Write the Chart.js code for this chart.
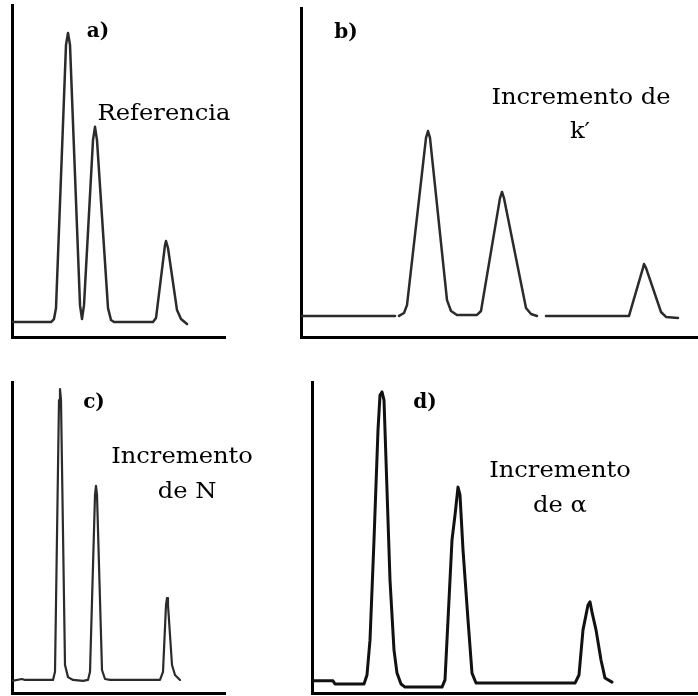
<!DOCTYPE html>
<html>
<head>
<meta charset="utf-8">
<script src="https://cdn.jsdelivr.net/npm/chart.js@4.4.1/dist/chart.umd.min.js"></script>
<style>
html,body{margin:0;padding:0;background:#fff;overflow:hidden}
#wrap{position:relative;width:698px;height:696px;background:#fff}
canvas{position:absolute;left:0;top:0}
</style>
</head>
<body>
<div id="wrap">
<canvas id="ca" width="698" height="696"></canvas>
<canvas id="cb" width="698" height="696"></canvas>
<canvas id="cc" width="698" height="696"></canvas>
<canvas id="cd" width="698" height="696"></canvas>
</div>
<script>
// ---- Data: retention time (min) and detector signal (% of full scale) ----
// a) Referencia
const timeA   = [0, 1.95, 2.1, 2.2, 2.7, 2.8, 2.9, 3.4, 3.5, 3.6, 4.05, 4.15, 4.25, 4.8, 4.95, 5.1, 7.05, 7.2, 7.65, 7.7, 7.8, 8.25, 8.45, 8.75];
const signalA = [4.5, 4.5, 5.4, 8.7, 88.0, 91.6, 88.0, 9.6, 5.4, 9.6, 59.3, 63.3, 59.3, 8.7, 5.1, 4.5, 4.5, 5.7, 27.7, 28.9, 26.8, 8.1, 5.4, 3.9];
// b) Incremento de k'
const timeB   = [0, 4.7, 4.8, 4.9, 5.15, 5.3, 6.25, 6.35, 6.45, 7.3, 7.5, 7.8, 8.8, 9.0, 9.95, 10.05, 10.15, 11.25, 11.5, 11.8, 12.0, 12.25, 16.4, 17.1, 17.15, 17.25, 18.0, 18.25, 18.85];
const signalB = [6.4, 6.4, null, 6.4, 7.3, 9.7, 60.5, 62.6, 60.5, 11.2, 7.9, 6.7, 6.7, 7.9, 42.2, 44.1, 42.2, 8.8, 7.0, 6.4, null, 6.4, 6.4, 21.0, 22.2, 21.0, 7.6, 6.1, 5.8];
// c) Incremento de N
const timeC   = [0, 0.5, 0.65, 2.05, 2.15, 2.35, 2.4, 2.45, 2.65, 2.8, 3.05, 3.55, 3.8, 3.9, 4.15, 4.2, 4.25, 4.5, 4.65, 4.9, 7.4, 7.55, 7.7, 7.75, 7.8, 8.0, 8.15, 8.4];
const signalC = [3.9, 4.5, 4.2, 4.2, 6.8, 94.2, 97.7, 94.2, 9.0, 5.1, 4.2, 3.9, 4.2, 6.8, 63.7, 66.6, 63.7, 7.4, 4.5, 4.2, 4.2, 6.8, 28.3, 30.5, 28.3, 9.0, 5.8, 4.2];
// d) Incremento de alfa
const timeD   = [0, 1.05, 1.15, 2.6, 2.75, 2.9, 3.1, 3.3, 3.4, 3.5, 3.6, 3.7, 3.9, 4.1, 4.25, 4.45, 4.65, 6.5, 6.65, 6.8, 7.0, 7.15, 7.3, 7.4, 7.55, 7.8, 8.0, 8.2, 13.15, 13.35, 13.55, 13.8, 13.9, 14.0, 14.2, 14.45, 14.65, 15.0];
const signalD = [3.9, 3.9, 2.9, 2.9, 5.8, 17.0, 49.2, 84.6, 95.8, 96.8, 94.2, 74.9, 36.3, 13.8, 6.4, 2.9, 1.9, 1.9, 4.2, 23.5, 49.2, 57.2, 66.2, 63.7, 46.0, 23.5, 6.4, 3.2, 3.2, 5.8, 20.3, 28.3, 29.3, 26.0, 20.3, 10.6, 4.8, 3.5];

// Axis ranges (min)
const timeMaxA = 10.65, timeMaxB = 19.85, timeMaxC = 10.65, timeMaxD = 19.3;
const signalMax = 100;

// Texts
const panelTags = ['a)', 'b)', 'c)', 'd)'];
const labelA = ['Referencia'];
const labelB = ['Incremento de', 'k\u2032'];
const labelC = ['Incremento', 'de N'];
const labelD = ['Incremento', 'de \u03B1'];

// ---- Rendering ----
const textPlugin = {
  id: 'panelText',
  afterDraw(chart, args, opts) {
    const ctx = chart.ctx;
    (opts.items || []).forEach(it => {
      ctx.save();
      ctx.fillStyle = '#000';
      ctx.font = it.font;
      ctx.textAlign = 'center';
      ctx.textBaseline = 'alphabetic';
      ctx.translate(it.x, it.y);
      ctx.scale(it.sx || 1, 1);
      ctx.fillText(it.text, 0, 0);
      ctx.restore();
    });
  }
};

const TAG_FONT = 'bold 20px "DejaVu Serif"';
const LBL_FONT = '22px "DejaVu Serif"';
const SX = 1.1;

function makeChart(id, times, signals, xmax, pad, color, width, items) {
  const pts = times.map((t, i) => ({ x: t, y: signals[i] }));
  return new Chart(document.getElementById(id), {
    type: 'line',
    data: { datasets: [{
      data: pts,
      borderColor: color,
      borderWidth: width,
      pointRadius: 0,
      tension: 0,
      spanGaps: false,
      fill: false,
      borderJoinStyle: 'round',
      borderCapStyle: 'round'
    }]},
    options: {
      responsive: false,
      animation: false,
      events: [],
      layout: { padding: pad },
      plugins: {
        legend: { display: false },
        tooltip: { enabled: false },
        title: { display: false },
        panelText: { items: items }
      },
      scales: {
        x: {
          type: 'linear', min: 0, max: xmax,
          grid: { display: false, drawTicks: false, tickLength: 0 },
          ticks: { display: false },
          border: { display: true, color: '#000', width: 3 }
        },
        y: {
          type: 'linear', min: 0, max: signalMax,
          grid: { display: false, drawTicks: false, tickLength: 0 },
          ticks: { display: false },
          border: { display: true, color: '#000', width: 3 }
        }
      }
    },
    plugins: [textPlugin]
  });
}

makeChart('ca', timeA, signalA, timeMaxA,
  { left: 12, top: 5, right: 698 - 225, bottom: 696 - 337 }, '#2b2b2b', 2.5, [
    { text: panelTags[0], font: TAG_FONT, x: 98, y: 37 },
    { text: labelA[0], font: LBL_FONT, x: 164, y: 120, sx: SX }
  ]);

makeChart('cb', timeB, signalB, timeMaxB,
  { left: 301, top: 8, right: 0, bottom: 696 - 337 }, '#2b2b2b', 2.5, [
    { text: panelTags[1], font: TAG_FONT, x: 346, y: 38 },
    { text: labelB[0], font: LBL_FONT, x: 581, y: 104, sx: SX },
    { text: labelB[1], font: LBL_FONT, x: 580, y: 138, sx: SX }
  ]);

makeChart('cc', timeC, signalC, timeMaxC,
  { left: 12, top: 382, right: 698 - 225, bottom: 696 - 693 }, '#2b2b2b', 2.2, [
    { text: panelTags[2], font: TAG_FONT, x: 94, y: 408 },
    { text: labelC[0], font: LBL_FONT, x: 182, y: 463, sx: SX },
    { text: labelC[1], font: LBL_FONT, x: 187, y: 498, sx: SX }
  ]);

makeChart('cd', timeD, signalD, timeMaxD,
  { left: 312, top: 382, right: 0, bottom: 696 - 693 }, '#111111', 3, [
    { text: panelTags[3], font: TAG_FONT, x: 425, y: 408 },
    { text: labelD[0], font: LBL_FONT, x: 560, y: 477, sx: SX },
    { text: labelD[1], font: LBL_FONT, x: 560, y: 512, sx: SX }
  ]);
</script>
</body>
</html>
